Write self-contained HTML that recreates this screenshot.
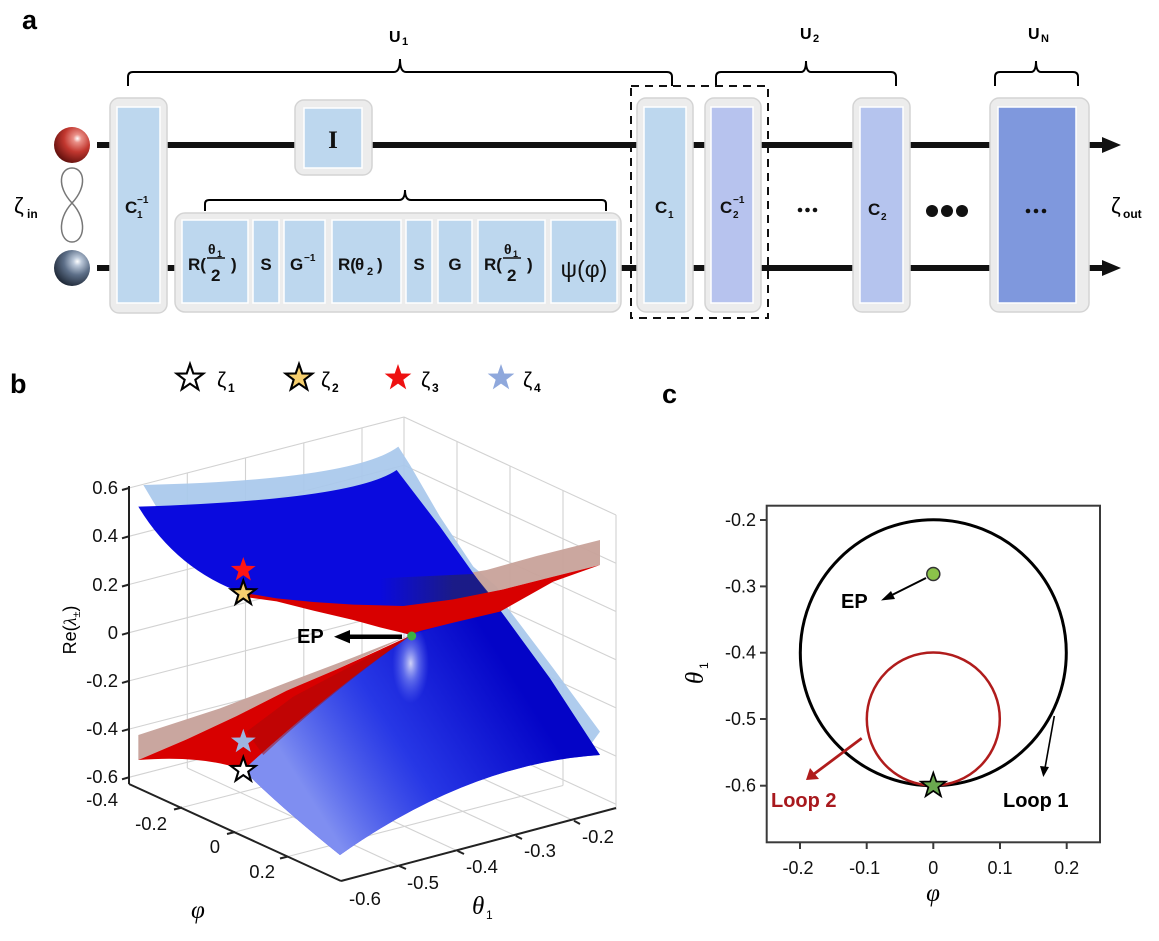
<!DOCTYPE html>
<html><head><meta charset="utf-8"><style>html,body{margin:0;padding:0;background:#fff}svg{display:block}</style></head>
<body>
<svg width="1159" height="941" viewBox="0 0 1159 941" xmlns="http://www.w3.org/2000/svg" font-family="Liberation Sans, Arial, sans-serif">
<defs>
<polygon id="star" points="0,-1 0.2351,-0.3236 0.9511,-0.309 0.3804,0.1236 0.5878,0.809 0,0.4 -0.5878,0.809 -0.3804,0.1236 -0.9511,-0.309 -0.2351,-0.3236"/>
<radialGradient id="sr" cx="0.65" cy="0.32" r="0.75"><stop offset="0" stop-color="#fff"/><stop offset="0.15" stop-color="#ea9088"/><stop offset="0.5" stop-color="#c2372f"/><stop offset="1" stop-color="#5a0d0a"/></radialGradient>
<radialGradient id="sb" cx="0.65" cy="0.32" r="0.75"><stop offset="0" stop-color="#fff"/><stop offset="0.15" stop-color="#bcc9da"/><stop offset="0.5" stop-color="#5d6f88"/><stop offset="1" stop-color="#1a2331"/></radialGradient>
<linearGradient id="navy" gradientUnits="userSpaceOnUse" x1="780" y1="0" x2="1000" y2="0"><stop offset="0" stop-color="#1e1e78" stop-opacity="0"/><stop offset="1" stop-color="#1e1e78" stop-opacity="0.85"/></linearGradient>
<linearGradient id="low" gradientUnits="userSpaceOnUse" x1="650" y1="1230" x2="1250" y2="850"><stop offset="0" stop-color="#8595f2" stop-opacity="0.95"/><stop offset="0.45" stop-color="#3a55ea" stop-opacity="0.6"/><stop offset="1" stop-color="#0000b8" stop-opacity="0.6"/></linearGradient>
<radialGradient id="glow"><stop offset="0" stop-color="#ffffff" stop-opacity="0.8"/><stop offset="0.45" stop-color="#b8c6ff" stop-opacity="0.4"/><stop offset="1" stop-color="#8090ff" stop-opacity="0"/></radialGradient>
</defs>
<rect width="1159" height="941" fill="#fff"/>

<!-- ================= PANEL A ================= -->
<text x="22" y="29" font-size="27" font-weight="bold">a</text>

<g fill="none" stroke="#000" stroke-width="2">
<path d="M128,86 V77 Q128,72 133,72 H394 Q400,72 400,59 Q400,72 406,72 H667 Q672,72 672,77 V86"/>
<path d="M205,211 V204 Q205,200 209,200 H399 Q405,200 405,190 Q405,200 411,200 H602 Q606,200 606,204 V211"/>
<path d="M716,86 V77 Q716,72 721,72 H801 Q806,72 806,61 Q806,72 811,72 H891 Q896,72 896,77 V86"/>
<path d="M995,86 V77 Q995,72 1000,72 H1031 Q1036,72 1036,61 Q1036,72 1041,72 H1073 Q1078,72 1078,77 V86"/>
</g>
<text x="389" y="42" font-size="16" font-weight="bold">U</text><text x="402" y="45" font-size="11" font-weight="bold">1</text>
<text x="800" y="39" font-size="16" font-weight="bold">U</text><text x="813" y="42" font-size="11" font-weight="bold">2</text>
<text x="1028" y="39" font-size="16" font-weight="bold">U</text><text x="1041" y="42" font-size="11" font-weight="bold">N</text>

<line x1="97" y1="145" x2="1106" y2="145" stroke="#111" stroke-width="6"/>
<line x1="97" y1="268" x2="1106" y2="268" stroke="#111" stroke-width="6"/>
<polygon points="1102,137 1121,145 1102,153" fill="#111"/>
<polygon points="1102,260 1121,268 1102,276" fill="#111"/>

<circle cx="72" cy="145" r="18" fill="url(#sr)"/>
<circle cx="72" cy="268" r="18" fill="url(#sb)"/>
<path d="M72,203 C88,186 84,168 72,168 C60,168 56,186 72,203 C88,220 84,242 72,242 C60,242 56,220 72,203 Z" fill="none" stroke="#777" stroke-width="1.5"/>
<text x="14" y="213" font-size="22">ζ</text><text x="27" y="218" font-size="12" font-weight="bold">in</text>
<text x="1111" y="213" font-size="22">ζ</text><text x="1123" y="218" font-size="12" font-weight="bold">out</text>

<g stroke="#d4d4d4" stroke-width="1.5" fill="#ececec">
<rect x="110" y="98" width="57" height="215" rx="9"/>
<rect x="295" y="100" width="77" height="75" rx="9"/>
<rect x="175" y="213" width="446" height="99" rx="10"/>
<rect x="637" y="98" width="56" height="214" rx="9"/>
<rect x="705" y="98" width="56" height="214" rx="9"/>
<rect x="853" y="98" width="57" height="214" rx="9"/>
<rect x="990" y="98" width="99" height="214" rx="9"/>
</g>
<g stroke="#fff" stroke-width="1.5" fill="#bdd7ee">
<rect x="117" y="107" width="43" height="196"/>
<rect x="304" y="108" width="58" height="60"/>
<rect x="182" y="220" width="66" height="83"/>
<rect x="253" y="220" width="26" height="83"/>
<rect x="284" y="220" width="41" height="83"/>
<rect x="332" y="220" width="69" height="83"/>
<rect x="406" y="220" width="26" height="83"/>
<rect x="438" y="220" width="34" height="83"/>
<rect x="478" y="220" width="67" height="83"/>
<rect x="551" y="220" width="66" height="83"/>
<rect x="644" y="107" width="42" height="196"/>
<rect x="711" y="107" width="42" height="196" fill="#b7c3ee"/>
<rect x="860" y="107" width="43" height="196" fill="#b5c4ee"/>
<rect x="998" y="107" width="78" height="196" fill="#7f98dd"/>
</g>
<rect x="631" y="86" width="137" height="232" fill="none" stroke="#111" stroke-width="2" stroke-dasharray="8,6"/>

<g font-weight="bold" fill="#111">
<text x="125" y="213" font-size="17">C</text><text x="137" y="203" font-size="10">−1</text><text x="137" y="218" font-size="10">1</text>
<text x="333" y="148" font-size="25" text-anchor="middle" font-family="Liberation Serif, serif">I</text>
<text x="188" y="270" font-size="17">R(</text><text x="208" y="254" font-size="14">θ</text><text x="217" y="257" font-size="9">1</text>
<line x1="207" y1="258" x2="225" y2="258" stroke="#111" stroke-width="1.6"/><text x="211" y="281" font-size="17">2</text><text x="231" y="270" font-size="17">)</text>
<text x="266" y="270" font-size="17" text-anchor="middle">S</text>
<text x="290" y="270" font-size="17">G</text><text x="304" y="261" font-size="10">−1</text>
<text x="338" y="270" font-size="17">R(</text><text x="355" y="270" font-size="17">θ</text><text x="367" y="275" font-size="11">2</text><text x="377" y="270" font-size="17">)</text>
<text x="419" y="270" font-size="17" text-anchor="middle">S</text>
<text x="455" y="270" font-size="17" text-anchor="middle">G</text>
<text x="484" y="270" font-size="17">R(</text><text x="504" y="254" font-size="14">θ</text><text x="513" y="257" font-size="9">1</text>
<line x1="503" y1="258" x2="521" y2="258" stroke="#111" stroke-width="1.6"/><text x="507" y="281" font-size="17">2</text><text x="527" y="270" font-size="17">)</text>
<text x="655" y="213" font-size="17">C</text><text x="668" y="218" font-size="10">1</text>
<text x="720" y="213" font-size="17">C</text><text x="733" y="203" font-size="10">−1</text><text x="733" y="218" font-size="10">2</text>
<text x="868" y="215" font-size="17">C</text><text x="881" y="220" font-size="10">2</text>
</g>
<text x="584" y="277" font-size="23" text-anchor="middle" fill="#111">ψ(φ)</text>
<g fill="#111">
<circle cx="800" cy="210" r="2.3"/><circle cx="807.5" cy="210" r="2.3"/><circle cx="815" cy="210" r="2.3"/>
<circle cx="1028" cy="211" r="2.3"/><circle cx="1036" cy="211" r="2.3"/><circle cx="1044" cy="211" r="2.3"/>
<circle cx="932" cy="211" r="6"/><circle cx="947" cy="211" r="6"/><circle cx="962" cy="211" r="6"/>
</g>

<!-- ================= PANEL B ================= -->
<text x="10" y="393" font-size="27" font-weight="bold">b</text>
<use href="#star" transform="translate(190 378) scale(14)" fill="#fff" stroke="#000" stroke-width="0.15" stroke-linejoin="miter"/>
<use href="#star" transform="translate(299 378) scale(14)" fill="#f6cf6e" stroke="#000" stroke-width="0.15"/>
<use href="#star" transform="translate(398 378) scale(14)" fill="#ee1111"/>
<use href="#star" transform="translate(501 378) scale(14)" fill="#8fa8dc"/>
<text x="217" y="387" font-size="21">ζ</text><text x="228" y="392" font-size="12" font-weight="bold">1</text>
<text x="321" y="387" font-size="21">ζ</text><text x="332" y="392" font-size="12" font-weight="bold">2</text>
<text x="421" y="387" font-size="21">ζ</text><text x="432" y="392" font-size="12" font-weight="bold">3</text>
<text x="523" y="387" font-size="21">ζ</text><text x="534" y="392" font-size="12" font-weight="bold">4</text>

<g stroke="#d2d2d2" stroke-width="1.1" fill="none">
<line x1="129" y1="488" x2="404" y2="417"/><line x1="129" y1="536.3" x2="404" y2="465.3"/><line x1="129" y1="584.5" x2="404" y2="513.5"/>
<line x1="129" y1="632.7" x2="404" y2="561.7"/><line x1="129" y1="680.9" x2="404" y2="609.9"/><line x1="129" y1="729.1" x2="404" y2="658.1"/><line x1="129" y1="777.3" x2="404" y2="706.3"/>
<line x1="187.3" y1="473" x2="187.3" y2="768"/><line x1="245.5" y1="457.9" x2="245.5" y2="752.9"/><line x1="303.8" y1="442.9" x2="303.8" y2="737.9"/><line x1="362" y1="427.8" x2="362" y2="722.8"/>
<line x1="404" y1="417" x2="404" y2="712"/>
<line x1="404" y1="417" x2="616" y2="515"/><line x1="404" y1="465.3" x2="616" y2="563.3"/><line x1="404" y1="513.5" x2="616" y2="611.5"/>
<line x1="404" y1="561.7" x2="616" y2="659.7"/><line x1="404" y1="609.9" x2="616" y2="707.9"/><line x1="404" y1="658.1" x2="616" y2="756.1"/><line x1="404" y1="706.3" x2="616" y2="804.3"/>
<line x1="457" y1="441.5" x2="457" y2="736.5"/><line x1="510" y1="466" x2="510" y2="761"/><line x1="563" y1="490.5" x2="563" y2="785.5"/><line x1="616" y1="515" x2="616" y2="810"/>
<line x1="187.3" y1="768" x2="399.3" y2="866"/><line x1="245.5" y1="752.9" x2="457.5" y2="850.9"/><line x1="303.8" y1="737.9" x2="515.8" y2="835.9"/><line x1="362" y1="722.8" x2="574" y2="820.8"/>
<line x1="182" y1="807.5" x2="457" y2="736.5"/><line x1="235" y1="832" x2="510" y2="761"/><line x1="288" y1="856.5" x2="563" y2="785.5"/>
</g>

<g transform="translate(120 430) scale(0.333333)">
<path d="M70,165 Q700,150 835,50 L870,105 L960,260 L1060,410 L1130,470 L1160,530 L1300,715 L1440,905 L1400,960 L900,900 L870,615 L400,320 L110,232 Z" fill="#a8c8ec" opacity="0.92"/>
<path d="M860,440 L1000,437 L1100,420 L1250,378 L1440,330 L1440,405 L1300,440 L1150,478 L1000,508 L860,525 Z" fill="#c8a29a" opacity="0.95"/>
<path d="M55,230 Q700,210 830,120 L960,290 L1060,430 L1140,540 L1290,745 L1440,975 Q1050,1000 660,1275 Q480,1130 370,1020 Q620,790 870,615 L600,530 L370,490 Q170,420 55,230 Z" fill="#0a0ade"/>
<path d="M870,615 L1140,540 L1290,745 L1440,975 Q1050,1000 660,1275 Q480,1130 370,1020 Q620,790 870,615 Z" fill="url(#low)"/>
<ellipse cx="872" cy="700" rx="55" ry="120" fill="url(#glow)"/>
<path d="M780,445 L1060,432 L1140,530 L1000,508 L850,528 L780,520 Z" fill="url(#navy)"/>
<path d="M55,915 L300,835 L500,758 L700,682 L870,615 L650,718 L500,782 L350,858 L200,928 L55,990 Z" fill="#c9a69f"/>
<path d="M55,990 L200,928 L350,858 L500,782 L650,718 L870,618 Q620,790 370,1020 Q250,975 55,990 Z" fill="#d80000"/>
<path d="M380,905 L520,800 L700,705 L870,618 Q640,780 430,975 Z" fill="#a80808" opacity="0.5"/>
<path d="M368,488 L470,505 L580,516 L700,524 L850,528 L1000,508 L1150,478 L1300,440 L1440,405 L1300,455 L1140,545 L1000,578 L900,603 L870,614 L780,592 L700,570 L580,542 L470,514 L368,500 Z" fill="#d80000"/>
</g>

<g stroke="#222" stroke-width="2" fill="none">
<line x1="129" y1="486" x2="129" y2="784"/>
<line x1="129" y1="784" x2="341" y2="881"/>
<line x1="341" y1="881" x2="616" y2="808"/>
<line x1="129" y1="488" x2="122" y2="490"/><line x1="129" y1="536.3" x2="122" y2="538.3"/><line x1="129" y1="584.5" x2="122" y2="586.5"/>
<line x1="129" y1="632.7" x2="122" y2="634.7"/><line x1="129" y1="680.9" x2="122" y2="682.9"/><line x1="129" y1="729.1" x2="122" y2="731.1"/><line x1="129" y1="777.3" x2="122" y2="779.3"/>
<line x1="182" y1="807.5" x2="174" y2="809.5"/><line x1="235" y1="832" x2="227" y2="834"/><line x1="288" y1="856.5" x2="280" y2="858.5"/>
<line x1="399.3" y1="866" x2="406" y2="869"/><line x1="457.5" y1="850.9" x2="464" y2="854"/><line x1="515.8" y1="835.9" x2="522" y2="839"/><line x1="574" y1="820.8" x2="580" y2="824"/>
</g>
<g font-size="18.5" fill="#111">
<g text-anchor="end">
<text x="118" y="494">0.6</text><text x="118" y="542">0.4</text><text x="118" y="591">0.2</text><text x="118" y="639">0</text>
<text x="118" y="687">-0.2</text><text x="118" y="735">-0.4</text><text x="118" y="783">-0.6</text>
<text x="118" y="806">-0.4</text><text x="167" y="830">-0.2</text><text x="220" y="853">0</text><text x="275" y="878">0.2</text>
</g>
<text x="349" y="905">-0.6</text><text x="407" y="889">-0.5</text><text x="466" y="873">-0.4</text><text x="524" y="857">-0.3</text><text x="582" y="843">-0.2</text>
</g>
<text x="191" y="918" font-size="25" font-style="italic" font-family="Liberation Serif, serif">φ</text>
<text x="472" y="914" font-size="25" font-style="italic" font-family="Liberation Serif, serif">θ</text><text x="486" y="919" font-size="12">1</text>
<g transform="translate(76 630) rotate(-90)"><text x="0" y="0" font-size="18" text-anchor="middle">Re(<tspan font-style="italic" font-family="Liberation Serif, serif">λ</tspan><tspan font-size="11" dy="4">±</tspan><tspan dy="-4">)</tspan></text></g>

<line x1="402" y1="636.7" x2="348" y2="636.7" stroke="#000" stroke-width="4.5"/>
<polygon points="334,636.7 350,630 350,643.4" fill="#000"/>
<text x="297" y="643" font-size="20" font-weight="bold">EP</text>
<circle cx="411.7" cy="636" r="4.5" fill="#3cb043"/>
<use href="#star" transform="translate(243.3 570) scale(13)" fill="#ff1414"/>
<use href="#star" transform="translate(243.3 593.3) scale(13)" fill="#f6cf6e" stroke="#000" stroke-width="0.16"/>
<use href="#star" transform="translate(243.3 741.7) scale(13)" fill="#9db4e0"/>
<use href="#star" transform="translate(243.3 770) scale(13)" fill="#fff" stroke="#000" stroke-width="0.16"/>

<!-- ================= PANEL C ================= -->
<text x="662" y="403" font-size="27" font-weight="bold">c</text>
<rect x="766.7" y="505.7" width="333.3" height="336.6" fill="none" stroke="#3a3a3a" stroke-width="2"/>
<g stroke="#3a3a3a" stroke-width="2">
<line x1="760" y1="520" x2="766.7" y2="520"/><line x1="760" y1="586.4" x2="766.7" y2="586.4"/><line x1="760" y1="652.7" x2="766.7" y2="652.7"/><line x1="760" y1="719" x2="766.7" y2="719"/><line x1="760" y1="785.7" x2="766.7" y2="785.7"/>
<line x1="800" y1="842.3" x2="800" y2="849"/><line x1="866.7" y1="842.3" x2="866.7" y2="849"/><line x1="933.3" y1="842.3" x2="933.3" y2="849"/><line x1="1000" y1="842.3" x2="1000" y2="849"/><line x1="1066.7" y1="842.3" x2="1066.7" y2="849"/>
</g>
<g font-size="18" fill="#111">
<g text-anchor="end"><text x="756" y="526">-0.2</text><text x="756" y="592.4">-0.3</text><text x="756" y="658.7">-0.4</text><text x="756" y="725">-0.5</text><text x="756" y="791.7">-0.6</text></g>
<g text-anchor="middle"><text x="798" y="874">-0.2</text><text x="864.7" y="874">-0.1</text><text x="933.3" y="874">0</text><text x="1000" y="874">0.1</text><text x="1066.7" y="874">0.2</text></g>
</g>
<text x="933" y="901" font-size="25" font-style="italic" font-family="Liberation Serif, serif" text-anchor="middle">φ</text>
<g transform="translate(703 672) rotate(-90)"><text x="-6" y="0" font-size="25" font-style="italic" font-family="Liberation Serif, serif" text-anchor="middle">θ</text><text x="3" y="5" font-size="12">1</text></g>

<circle cx="933.3" cy="652.7" r="133" fill="none" stroke="#000" stroke-width="3"/>
<circle cx="933.3" cy="719" r="66.5" fill="none" stroke="#b01c1c" stroke-width="2.5"/>
<circle cx="933.3" cy="574" r="6.5" fill="#8bc34a" stroke="#333" stroke-width="1.5"/>
<line x1="926" y1="578" x2="890" y2="596" stroke="#000" stroke-width="2"/>
<polygon points="881,600.5 891,591 895,599" fill="#000"/>
<text x="841" y="608" font-size="20" font-weight="bold">EP</text>
<line x1="861.7" y1="738.3" x2="814" y2="774" stroke="#b01c1c" stroke-width="2.8"/>
<polygon points="806,780 810,768 819,779" fill="#b01c1c"/>
<text x="771" y="807" font-size="20" font-weight="bold" fill="#a8191e">Loop 2</text>
<line x1="1054.3" y1="716" x2="1045" y2="768" stroke="#000" stroke-width="1.6"/>
<polygon points="1043.3,777 1040,766 1049,767" fill="#000"/>
<text x="1003" y="807" font-size="20" font-weight="bold">Loop 1</text>
<use href="#star" transform="translate(933.3 785.7) scale(13)" fill="#6aa84f" stroke="#000" stroke-width="0.13"/>
</svg>
</body></html>
